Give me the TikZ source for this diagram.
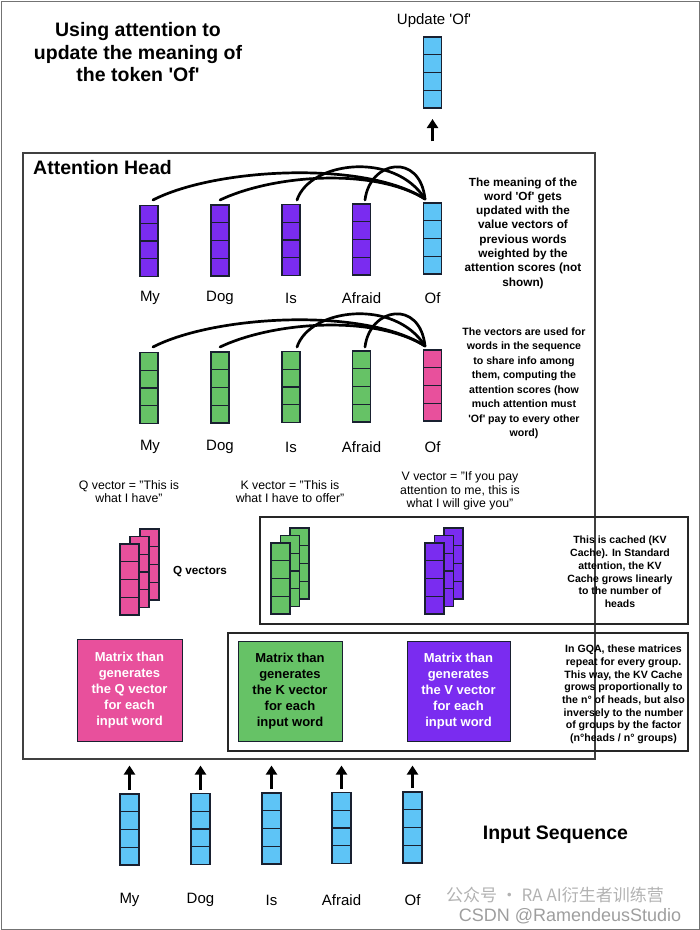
\documentclass[tikz,border=0pt]{standalone}
\usepackage{fontspec}
\setmainfont{Liberation Sans}
\newfontfamily\cjkfont{Noto Sans CJK SC}
\usetikzlibrary{arrows.meta,calc}
\definecolor{cblue}{RGB}{94,196,246}
\definecolor{cpurple}{RGB}{122,44,240}
\definecolor{cgreen}{RGB}{102,194,102}
\definecolor{cpink}{RGB}{232,80,156}
\definecolor{cedge}{RGB}{25,32,48}
\newcommand{\sq}{\textquotesingle}
\tikzset{
  vec/.style={draw=cedge, line width=1.2pt, fill=#1, minimum width=18pt, minimum height=71pt,
    inner sep=0pt, outer sep=0pt,
    path picture={\foreach \k in {0.25,0.5,0.75}{\draw[cedge,line width=1.2pt]
      ($(path picture bounding box.south west)!\k!(path picture bounding box.north west)$) --
      ($(path picture bounding box.south east)!\k!(path picture bounding box.north east)$);}}},
  word/.style={font=\fontsize{15}{18}\selectfont, inner sep=0pt},
  curve/.style={line width=2.7pt, line cap=round},
  uparrow/.style={line width=2.4pt, -{Triangle[width=11pt,length=9pt]}},
  big/.style={font=\fontsize{19.5}{22.5}\selectfont\bfseries, align=center, inner sep=0pt},
  note/.style={align=center, inner sep=0pt},
  qkv/.style={align=center, inner sep=0pt, font=\fontsize{12.3}{13.8}\selectfont},
  matbox/.style={draw=cedge, line width=1pt, align=center, inner sep=0pt,
    font=\fontsize{13}{16}\selectfont\bfseries},
}
\begin{document}
\begin{tikzpicture}[x=1pt,y=-1pt]
\useasboundingbox (0,0) rectangle (700,930);
\draw[black!55, line width=0.8pt] (1,1) rectangle (699,929);

% title
\node[big] (title) at (138,52.5) {Using attention to\\update the meaning of\\the token \sq Of\sq};

% updated vector
\node[font=\fontsize{15}{18}\selectfont, inner sep=0pt] (updlbl) at (434,21) {Update \sq Of\sq};
\node[vec=cblue] (upd) at (432.5,72.5) {};

% attention head box
\node[draw=black!75, line width=1.1pt, minimum width=572pt, minimum height=606pt, inner sep=0pt] (head) at (309,456) {};
\node[big, anchor=west] (headlbl) at (33,168) {Attention Head};

\draw[uparrow] ($(upd.south |- head.north)+(0,-11)$) -- ($(upd.south)+(0,11)$);

% row 1 (value vectors)
\node[vec=cpurple] (t1) at (149,241) {};
\node[vec=cpurple] (t2) at (220,240.5) {};
\node[vec=cpurple] (t3) at (291,240) {};
\node[vec=cpurple] (t4) at (361.5,239.5) {};
\node[vec=cblue]   (t5) at (432.5,238.5) {};
\node[word] (tl1) at (150,298) {My};
\node[word] (tl2) at (220,298) {Dog};
\node[word] (tl3) at (291,298) {Is};
\node[word] (tl4) at (361.5,298) {Afraid};
\node[word] (tl5) at (432.5,298) {Of};

\draw[curve] ([shift={(4,-5.5)}]t1.north) .. controls +(62,-32) and +(-60,-39) .. ([shift={(-7.5,-4)}]t5.north);
\draw[curve] ([shift={(0,-5)}]t2.north) .. controls +(55,-26) and +(-50,-31) .. ([shift={(-7.5,-4)}]t5.north);
\draw[curve] ([shift={(6,-4.5)}]t3.north) .. controls +(13,-39) and +(-30,-48) .. ([shift={(-7.5,-4)}]t5.north);
\draw[curve] ([shift={(3.5,-4)}]t4.north) .. controls +(5,-40) and +(-5,-47) .. ([shift={(-7.5,-4)}]t5.north);

\node[note, font=\fontsize{11.8}{14.3}\selectfont\bfseries] (n1) at (523,233)
 {The meaning of the\\word \sq Of\sq\ gets\\updated with the\\value vectors of\\previous words\\weighted by the\\attention scores (not\\shown)};

% row 2 (keys / query)
\node[vec=cgreen] (m1) at (149,388) {};
\node[vec=cgreen] (m2) at (220,387.5) {};
\node[vec=cgreen] (m3) at (291,387) {};
\node[vec=cgreen] (m4) at (361.5,386.5) {};
\node[vec=cpink]  (m5) at (432.5,385.5) {};
\node[word] (ml1) at (150,447) {My};
\node[word] (ml2) at (220,447) {Dog};
\node[word] (ml3) at (291,447) {Is};
\node[word] (ml4) at (361.5,447) {Afraid};
\node[word] (ml5) at (432.5,447) {Of};

\draw[curve] ([shift={(4,-5.5)}]m1.north) .. controls +(62,-32) and +(-60,-39) .. ([shift={(-7.5,-4)}]m5.north);
\draw[curve] ([shift={(0,-5)}]m2.north) .. controls +(55,-26) and +(-50,-31) .. ([shift={(-7.5,-4)}]m5.north);
\draw[curve] ([shift={(6,-4.5)}]m3.north) .. controls +(13,-39) and +(-30,-48) .. ([shift={(-7.5,-4)}]m5.north);
\draw[curve] ([shift={(3.5,-4)}]m4.north) .. controls +(5,-40) and +(-5,-47) .. ([shift={(-7.5,-4)}]m5.north);

\node[note, font=\fontsize{10.6}{14.5}\selectfont\bfseries] (n2) at (524,383.5)
 {The vectors are used for\\words in the sequence\\to share info among\\them, computing the\\attention scores (how\\much attention must\\\sq Of\sq\ pay to every other\\word)};

% Q K V labels
\node[qkv] (ql) at (129,491.5) {Q vector = "This is\\what I have"};
\node[qkv] (kl) at (290,491.5) {K vector = "This is\\what I have to offer"};
\node[qkv] (vl) at (460,491) {V vector = "If you pay\\attention to me, this is\\what I will give you"};

% KV cache box
\node[draw=black!85, line width=1.1pt, minimum width=428pt, minimum height=107pt, inner sep=0pt] (kv) at (474,570.5) {};

% stacks
\node[vec=cpink, minimum width=19pt] (qb) at (149.5,564.5) {};
\node[vec=cpink, minimum width=19pt] (qm) at (139.5,572) {};
\node[vec=cpink, minimum width=19pt] (qf) at (129.5,579.5) {};
\node[font=\fontsize{11.7}{14}\selectfont\bfseries, inner sep=0pt] (qvl) at (200,572) {Q vectors};

\node[vec=cgreen, minimum width=19pt] (kb) at (299.5,563.5) {};
\node[vec=cgreen, minimum width=19pt] (km) at (290,571) {};
\node[vec=cgreen, minimum width=19pt] (kf) at (280.5,578.5) {};

\node[vec=cpurple, minimum width=19pt] (vb) at (453.5,563.5) {};
\node[vec=cpurple, minimum width=19pt] (vm) at (444,571) {};
\node[vec=cpurple, minimum width=19pt] (vf) at (434.5,578.5) {};

\node[note, font=\fontsize{10.5}{12.8}\selectfont\bfseries] (n3) at (620,572)
 {This is cached (KV\\Cache). In Standard\\attention, the KV\\Cache grows linearly\\to the number of\\heads};

% GQA box
\node[draw=black!85, line width=1.1pt, minimum width=460pt, minimum height=118pt, inner sep=0pt] (gqa) at (458,692) {};

\node[matbox, fill=cpink, text=white, minimum width=105pt, minimum height=102pt] (mq) at (129.5,690)
 {Matrix than\\generates\\the Q vector\\for each\\input word};
\node[matbox, fill=cgreen, text=black, minimum width=104pt, minimum height=100pt] (mk) at (290,691)
 {Matrix than\\generates\\the K vector\\for each\\input word};
\node[matbox, fill=cpurple, text=white, minimum width=103pt, minimum height=100pt] (mv) at (458.5,691)
 {Matrix than\\generates\\the V vector\\for each\\input word};

\node[note, font=\fontsize{10.6}{12.7}\selectfont\bfseries] (n4) at (623.5,694.5)
 {In GQA, these matrices\\repeat for every group.\\This way, the KV Cache\\grows proportionally to\\the n° of heads, but also\\inversely to the number\\of groups by the factor\\(n°heads / n° groups)};

% input sequence
\node[vec=cblue, minimum width=19pt] (i1) at (129.5,829.5) {};
\node[vec=cblue, minimum width=19pt] (i2) at (200.5,829) {};
\node[vec=cblue, minimum width=19pt] (i3) at (271.5,828.5) {};
\node[vec=cblue, minimum width=19pt] (i4) at (341.5,828) {};
\node[vec=cblue, minimum width=19pt] (i5) at (412.5,827.5) {};
\foreach \i in {1,...,5}{
  \draw[uparrow] ($(i\i.north)+(0,-4)$) -- ($(i\i.north |- head.south)+(0,6)$);
}
\node[word] (il1) at (129.5,900) {My};
\node[word] (il2) at (200.5,900) {Dog};
\node[word] (il3) at (271.5,900) {Is};
\node[word] (il4) at (341.5,900) {Afraid};
\node[word] (il5) at (412.5,900) {Of};
\node[big] (inlbl) at (555.5,835) {Input Sequence};

% watermark
\node[text=black!30, font=\cjkfont\fontsize{17}{17}\selectfont, inner sep=0pt] (wm1) at (555,895) {公众号 · RA AI衍生者训练营};
\node[text=black!38, font=\fontsize{18}{18}\selectfont, inner sep=0pt] (wm2) at (570,916) {CSDN @RamendeusStudio};
\end{tikzpicture}
\end{document}
